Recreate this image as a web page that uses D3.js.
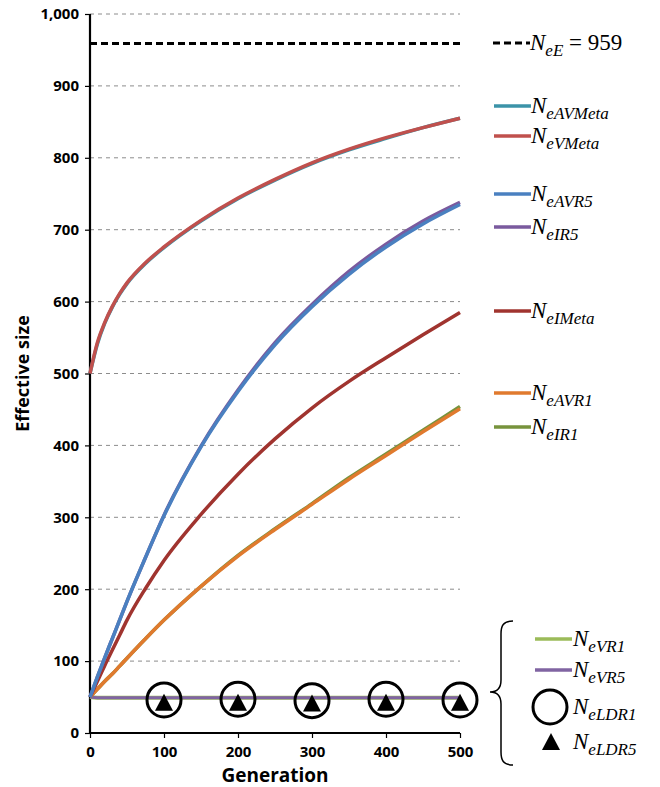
<!DOCTYPE html>
<html>
<head>
<meta charset="utf-8">
<script src="https://cdn.jsdelivr.net/npm/d3@7"></script>
<style>
  body { margin: 0; background: #fff; }
  .sans { font-family: "Open Sans", sans-serif; }
  .serif { font-family: "Liberation Serif", "Times New Roman", serif; font-style: italic; }
</style>
</head>
<body>
<div id="chart"></div>
<script>
// generations sampled for the curves
const generations = [0, 10, 20, 30, 40, 50, 75, 100, 150, 200, 250, 300, 350, 400, 450, 500];

const neAVMeta = [500, 541, 570, 592, 610, 625, 653, 675, 712, 743, 769, 792, 811, 827, 842, 855];
const neVMeta  = [500, 543, 571, 593, 611, 626, 654, 676, 713, 744, 770, 793, 812, 828, 842, 855];
const neAVR5   = [50, 78, 105, 131, 157, 183, 244, 302, 398, 475, 540, 593, 638, 676, 708, 735];
const neIR5    = [50, 78, 105, 131, 157, 183, 244, 303, 399, 477, 543, 596, 642, 680, 712, 738];
const neIMeta  = [50, 72, 94, 115, 136, 157, 201, 240, 304, 360, 409, 452, 489, 522, 554, 585];
const neAVR1   = [50, 61, 72, 82, 93, 104, 131, 157, 204, 246, 283, 318, 353, 386, 419, 451];
const neIR1    = [50, 61, 72, 82, 93, 104, 131, 157, 204, 247, 284, 319, 355, 388, 421, 454];
const neVR1    = [50, 49, 49, 49, 49, 49, 49, 49, 49, 49, 49, 49, 49, 49, 49, 49];
const neVR5    = [50, 49, 49, 49, 49, 49, 49, 49, 49, 49, 49, 49, 49, 49, 49, 49];

const ldrGenerations = [100, 200, 300, 400, 500];
const neLDR1 = [46, 47, 45, 47, 46];
const neLDR5 = [42, 42, 41, 42, 42];

const neE = 959;

const yTicks = [0, 100, 200, 300, 400, 500, 600, 700, 800, 900, 1000];
const xTicks = [0, 100, 200, 300, 400, 500];

function main() {
    const width = 660, height = 787;

    const svg = d3.select("#chart").append("svg")
        .attr("width", width)
        .attr("height", height);

    const x = d3.scaleLinear().domain([0, 500]).range([90, 460]);
    const y = d3.scaleLinear().domain([0, 1000]).range([733, 14]);

    // gridlines
    svg.append("g")
        .selectAll("line")
        .data(yTicks.filter(d => d > 0))
        .enter().append("line")
        .attr("x1", x(0)).attr("x2", x(500))
        .attr("y1", d => y(d)).attr("y2", d => y(d))
        .attr("stroke", "#8c8c8c")
        .attr("stroke-width", 1)
        .attr("stroke-dasharray", "4,4");

    // axes
    const yAxis = svg.append("g")
        .attr("transform", `translate(${x(0)},0)`)
        .call(d3.axisLeft(y).tickValues(yTicks).tickSize(5).tickPadding(6)
            .tickFormat(d3.format(",")));
    const xAxis = svg.append("g")
        .attr("transform", `translate(0,${y(0)})`)
        .call(d3.axisBottom(x).tickValues(xTicks).tickSize(5).tickPadding(8));

    [yAxis, xAxis].forEach(ax => {
        ax.select(".domain").attr("stroke", "#000").attr("stroke-width", 2.2);
        ax.selectAll(".tick line").attr("stroke", "#000").attr("stroke-width", 1.2);
        ax.selectAll(".tick text")
            .attr("class", "sans")
            .attr("font-weight", "bold")
            .attr("font-size", 15)
            .attr("fill", "#000");
    });
    yAxis.select(".domain").attr("d", `M0,${y(1000)}V${y(0)}`);
    xAxis.select(".domain").attr("d", `M${x(0)},0H${x(500)}`);

    svg.append("text")
        .attr("class", "sans")
        .attr("transform", `translate(29,${(y(0) + y(1000)) / 2}) rotate(-90)`)
        .attr("text-anchor", "middle")
        .attr("font-weight", "bold")
        .attr("font-size", 18)
        .text("Effective size");

    svg.append("text")
        .attr("class", "sans")
        .attr("x", (x(0) + x(500)) / 2)
        .attr("y", 782)
        .attr("text-anchor", "middle")
        .attr("font-weight", "bold")
        .attr("font-size", 19)
        .text("Generation");

    // NeE dashed reference
    svg.append("line")
        .attr("x1", x(0)).attr("x2", x(500))
        .attr("y1", y(neE)).attr("y2", y(neE))
        .attr("stroke", "#000")
        .attr("stroke-width", 3)
        .attr("stroke-dasharray", "7,4");

    const line = d3.line()
        .x((d, i) => x(generations[i]))
        .y(d => y(d))
        .curve(d3.curveMonotoneX);

    const series = [
        { values: neVR1, color: "#9BBB59", w: 4 },
        { values: neVR5, color: "#8064A2", w: 3 },
        { values: neIR1, color: "#77933C", w: 3.5 },
        { values: neAVR1, color: "#E07A2E", w: 3.5 },
        { values: neIMeta, color: "#A0342F", w: 3.5 },
        { values: neIR5, color: "#7A5A9E", w: 3.5 },
        { values: neAVR5, color: "#4A80C0", w: 3.5 },
        { values: neAVMeta, color: "#3B93A8", w: 3.5 },
        { values: neVMeta, color: "#C0504D", w: 3.5 }
    ];

    svg.append("g")
        .selectAll("path")
        .data(series)
        .enter().append("path")
        .attr("d", d => line(d.values))
        .attr("fill", "none")
        .attr("stroke", d => d.color)
        .attr("stroke-width", d => d.w);

    // LDR markers
    svg.append("g")
        .selectAll("circle")
        .data(neLDR1)
        .enter().append("circle")
        .attr("cx", (d, i) => x(ldrGenerations[i]))
        .attr("cy", d => y(d))
        .attr("r", 17)
        .attr("fill", "none")
        .attr("stroke", "#000")
        .attr("stroke-width", 3);

    // slightly tall triangle like the excel marker
    const tallTriangle = {
        draw(ctx) {
            ctx.moveTo(0, -9);
            ctx.lineTo(9, 8);
            ctx.lineTo(-9, 8);
            ctx.closePath();
        }
    };
    const tri = d3.symbol().type(tallTriangle);
    svg.append("g")
        .selectAll("path")
        .data(neLDR5)
        .enter().append("path")
        .attr("d", tri)
        .attr("transform", (d, i) => `translate(${x(ldrGenerations[i])},${y(d)})`)
        .attr("fill", "#000");

    // legend
    const legend = svg.append("g");

    function label(xPos, yPos, sub, extra) {
        const t = legend.append("text")
            .attr("class", "serif")
            .attr("x", xPos)
            .attr("y", yPos + 7);
        t.append("tspan").attr("font-size", 23).text("N");
        t.append("tspan").attr("font-size", 17).attr("dy", 6).text(sub);
        if (extra) {
            t.append("tspan").attr("font-size", 23).attr("dy", -6)
                .attr("font-style", "normal").text(extra);
        }
    }

    legend.append("line")
        .attr("x1", 493).attr("x2", 530).attr("y1", 43).attr("y2", 43)
        .attr("stroke", "#000").attr("stroke-width", 3).attr("stroke-dasharray", "7,4");
    label(530, 43, "eE", " = 959");

    const legendRows = [
        { sub: "eAVMeta", color: "#3B93A8", ly: 106 },
        { sub: "eVMeta", color: "#C0504D", ly: 136 },
        { sub: "eAVR5", color: "#4A80C0", ly: 194 },
        { sub: "eIR5", color: "#7A5A9E", ly: 227 },
        { sub: "eIMeta", color: "#A0342F", ly: 311 },
        { sub: "eAVR1", color: "#E07A2E", ly: 393 },
        { sub: "eIR1", color: "#77933C", ly: 427 }
    ];
    legendRows.forEach(r => {
        legend.append("line")
            .attr("x1", 494).attr("x2", 531).attr("y1", r.ly).attr("y2", r.ly)
            .attr("stroke", r.color).attr("stroke-width", 3.5);
        label(531, r.ly, r.sub);
    });

    // braced group
    legend.append("path")
        .attr("d", "M513,621 C503,621 501,626 501,634 L501,680 C501,688 498,692 490,692 C498,692 501,696 501,704 L501,752 C501,760 503,765 513,765")
        .attr("fill", "none")
        .attr("stroke", "#000")
        .attr("stroke-width", 1.5);

    legend.append("line")
        .attr("x1", 535).attr("x2", 572).attr("y1", 639).attr("y2", 639)
        .attr("stroke", "#9BBB59").attr("stroke-width", 3.5);
    label(573, 639, "eVR1");
    legend.append("line")
        .attr("x1", 535).attr("x2", 572).attr("y1", 670).attr("y2", 670)
        .attr("stroke", "#8064A2").attr("stroke-width", 3.5);
    label(573, 670, "eVR5");
    legend.append("circle")
        .attr("cx", 550).attr("cy", 707).attr("r", 17)
        .attr("fill", "none").attr("stroke", "#000").attr("stroke-width", 3);
    label(573, 707, "eLDR1");
    legend.append("path")
        .attr("d", tri)
        .attr("transform", "translate(551,742)")
        .attr("fill", "#000");
    label(573, 742, "eLDR5");
}
main();
</script>
</body>
</html>
